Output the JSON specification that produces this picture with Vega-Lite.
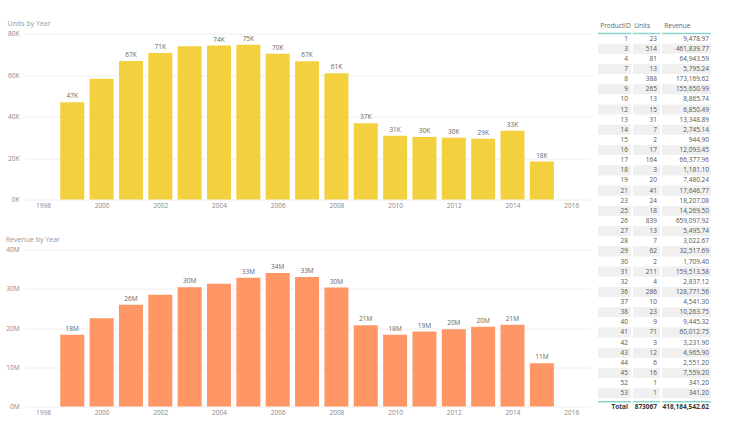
{
  "$schema": "https://vega.github.io/schema/vega-lite/v6.json",
  "description": "Units and Revenue by Year, with a product table",
  "background": "white",
  "padding": {"left": 5, "top": 19.5, "right": 0, "bottom": 0},
  "datasets": {
    "years": [
      {"Year": 1999, "Units": 46900, "Revenue": 18300000},
      {"Year": 2000, "Units": 58200, "Revenue": 22500000},
      {"Year": 2001, "Units": 66800, "Revenue": 25900000},
      {"Year": 2002, "Units": 70600, "Revenue": 28500000},
      {"Year": 2003, "Units": 73900, "Revenue": 30400000},
      {"Year": 2004, "Units": 74200, "Revenue": 31300000},
      {"Year": 2005, "Units": 74600, "Revenue": 32800000},
      {"Year": 2006, "Units": 70300, "Revenue": 34000000},
      {"Year": 2007, "Units": 66600, "Revenue": 33000000},
      {"Year": 2008, "Units": 60800, "Revenue": 30300000},
      {"Year": 2009, "Units": 36700, "Revenue": 20700000},
      {"Year": 2010, "Units": 30700, "Revenue": 18300000},
      {"Year": 2011, "Units": 30100, "Revenue": 19100000},
      {"Year": 2012, "Units": 29700, "Revenue": 19700000},
      {"Year": 2013, "Units": 29300, "Revenue": 20300000},
      {"Year": 2014, "Units": 33100, "Revenue": 20800000},
      {"Year": 2015, "Units": 18300, "Revenue": 11000000}
    ],
    "products": [
      {"ProductID": 1, "Units": 23, "Revenue": 9478.97},
      {"ProductID": 3, "Units": 514, "Revenue": 461839.77},
      {"ProductID": 4, "Units": 81, "Revenue": 64943.59},
      {"ProductID": 7, "Units": 13, "Revenue": 5795.24},
      {"ProductID": 8, "Units": 388, "Revenue": 173169.62},
      {"ProductID": 9, "Units": 265, "Revenue": 155650.99},
      {"ProductID": 10, "Units": 13, "Revenue": 8865.74},
      {"ProductID": 12, "Units": 15, "Revenue": 6850.49},
      {"ProductID": 13, "Units": 31, "Revenue": 13348.89},
      {"ProductID": 14, "Units": 7, "Revenue": 2745.14},
      {"ProductID": 15, "Units": 2, "Revenue": 944.90},
      {"ProductID": 16, "Units": 17, "Revenue": 12093.45},
      {"ProductID": 17, "Units": 164, "Revenue": 66377.96},
      {"ProductID": 18, "Units": 3, "Revenue": 1181.10},
      {"ProductID": 19, "Units": 20, "Revenue": 7480.24},
      {"ProductID": 21, "Units": 41, "Revenue": 17646.77},
      {"ProductID": 23, "Units": 24, "Revenue": 18207.08},
      {"ProductID": 25, "Units": 18, "Revenue": 14269.50},
      {"ProductID": 26, "Units": 839, "Revenue": 659097.92},
      {"ProductID": 27, "Units": 13, "Revenue": 5495.74},
      {"ProductID": 28, "Units": 7, "Revenue": 3022.67},
      {"ProductID": 29, "Units": 62, "Revenue": 32517.69},
      {"ProductID": 30, "Units": 2, "Revenue": 1709.40},
      {"ProductID": 31, "Units": 211, "Revenue": 159513.58},
      {"ProductID": 32, "Units": 4, "Revenue": 2837.12},
      {"ProductID": 36, "Units": 286, "Revenue": 128771.56},
      {"ProductID": 37, "Units": 10, "Revenue": 4541.30},
      {"ProductID": 38, "Units": 23, "Revenue": 10263.75},
      {"ProductID": 40, "Units": 9, "Revenue": 9445.32},
      {"ProductID": 41, "Units": 71, "Revenue": 60012.75},
      {"ProductID": 42, "Units": 3, "Revenue": 3231.90},
      {"ProductID": 43, "Units": 12, "Revenue": 4965.90},
      {"ProductID": 44, "Units": 6, "Revenue": 2551.20},
      {"ProductID": 45, "Units": 16, "Revenue": 7559.20},
      {"ProductID": 52, "Units": 1, "Revenue": 341.20},
      {"ProductID": 53, "Units": 1, "Revenue": 341.20},
      {"ProductID": "Total", "Units": 873067, "Revenue": 418184542.62}
    ]
  },
  "config": {
    "font": "Open Sans",
    "view": {"stroke": null},
    "title": {"fontSize": 7, "fontWeight": "normal", "color": "#999999", "anchor": "start", "offset": 3.5},
    "axis": {"labelFontSize": 6.5, "labelColor": "#888888", "domain": false, "ticks": false, "title": null},
    "text": {"fontSize": 6.5}
  },
  "spacing": 7,
  "hconcat": [
    {
      "spacing": 26,
      "vconcat": [
        {
          "title": {"text": "Units by Year", "frame": "bounds"},
          "width": 565,
          "height": 166,
          "data": {"name": "years"},
          "encoding": {
            "x": {
              "field": "Year",
              "type": "quantitative",
              "scale": {"domain": [1997.56, 2016.47], "nice": false, "zero": false},
              "axis": {"values": [1998, 2000, 2002, 2004, 2006, 2008, 2010, 2012, 2014, 2016], "format": "d", "grid": false, "labelPadding": 3}
            },
            "y": {
              "field": "Units",
              "type": "quantitative",
              "scale": {"domain": [0, 80000], "nice": false},
              "axis": {"values": [0, 20000, 40000, 60000, 80000], "labelExpr": "datum.value / 1000 + 'K'", "gridColor": "#eeeeee", "labelPadding": 6, "minExtent": 17, "maxExtent": 17}
            }
          },
          "layer": [
            {"mark": {"type": "bar", "size": 24, "color": "#F3D03E"}},
            {
              "transform": [
                {"filter": "datum.Year != 2000 && datum.Year != 2003"},
                {"calculate": "round(datum.Units / 1000) + 'K'", "as": "label"}
              ],
              "mark": {"type": "text", "baseline": "bottom", "dy": -3, "color": "#666666"},
              "encoding": {"text": {"field": "label"}}
            }
          ]
        },
        {
          "title": {"text": "Revenue by Year", "frame": "bounds"},
          "width": 565,
          "height": 157,
          "data": {"name": "years"},
          "encoding": {
            "x": {
              "field": "Year",
              "type": "quantitative",
              "scale": {"domain": [1997.56, 2016.47], "nice": false, "zero": false},
              "axis": {"values": [1998, 2000, 2002, 2004, 2006, 2008, 2010, 2012, 2014, 2016], "format": "d", "grid": false, "labelPadding": 3}
            },
            "y": {
              "field": "Revenue",
              "type": "quantitative",
              "scale": {"domain": [0, 40000000], "nice": false},
              "axis": {"values": [0, 10000000, 20000000, 30000000, 40000000], "labelExpr": "datum.value / 1000000 + 'M'", "gridColor": "#eeeeee", "labelPadding": 6, "minExtent": 17, "maxExtent": 17}
            }
          },
          "layer": [
            {"mark": {"type": "bar", "size": 24, "color": "#FE9666"}},
            {
              "transform": [
                {"filter": "datum.Year != 2000 && datum.Year != 2002 && datum.Year != 2004"},
                {"calculate": "round(datum.Revenue / 1000000) + 'M'", "as": "label"}
              ],
              "mark": {"type": "text", "baseline": "bottom", "dy": -3, "color": "#666666"},
              "encoding": {"text": {"field": "label"}}
            }
          ]
        }
      ]
    },
    {
      "spacing": 0,
      "hconcat": [
        {
          "title": {"text": "ProductID", "dx": 3, "color": "#666666", "fontSize": 6.5},
          "width": 33,
          "height": 375,
          "data": {"name": "products"},
          "transform": [{"window": [{"op": "row_number", "as": "r"}]}],
          "encoding": {
            "y": {"field": "r", "type": "ordinal", "scale": {"type": "band", "paddingInner": 0, "paddingOuter": 0}, "axis": null}
          },
          "layer": [
            {
              "transform": [{"filter": "datum.r % 2 == 0 && datum.r < 37"}],
              "mark": {"type": "rect", "color": "#f0f0f0"},
              "encoding": {"x": {"value": 0}, "x2": {"value": "width"}}
            },
            {
              "transform": [{"filter": "datum.r == 1"}],
              "mark": {"type": "rule", "color": "#8ad6cf", "strokeWidth": 1.5},
              "encoding": {"y": {"field": "r", "type": "ordinal", "bandPosition": 0}, "x": {"value": 0}, "x2": {"value": "width"}}
            },
            {
              "transform": [{"filter": "datum.r == 37"}],
              "mark": {"type": "rule", "color": "#8ad6cf", "strokeWidth": 1.5},
              "encoding": {"y": {"field": "r", "type": "ordinal", "bandPosition": 0.33}, "x": {"value": 0}, "x2": {"value": "width"}}
            },
            {
              "transform": [{"filter": "datum.r < 37"}],
              "mark": {"type": "text", "align": "right", "dx": -3, "color": "#555555"},
              "encoding": {"x": {"value": "width"}, "text": {"field": "ProductID", "type": "nominal"}}
            },
            {
              "transform": [{"filter": "datum.r == 37"}],
              "mark": {"type": "text", "align": "right", "dx": -3, "dy": 3.6, "color": "#333333", "fontWeight": "bold"},
              "encoding": {"x": {"value": "width"}, "text": {"field": "ProductID", "type": "nominal"}}
            }
          ]
        },
        {
          "title": {"text": "Units", "dx": 2, "color": "#666666", "fontSize": 6.5},
          "width": 27,
          "height": 375,
          "data": {"name": "products"},
          "transform": [{"window": [{"op": "row_number", "as": "r"}]}],
          "encoding": {
            "y": {"field": "r", "type": "ordinal", "scale": {"type": "band", "paddingInner": 0, "paddingOuter": 0}, "axis": null}
          },
          "layer": [
            {
              "transform": [{"filter": "datum.r % 2 == 0 && datum.r < 37"}],
              "mark": {"type": "rect", "color": "#f0f0f0"},
              "encoding": {"x": {"value": 0}, "x2": {"value": "width"}}
            },
            {
              "transform": [{"filter": "datum.r == 1"}],
              "mark": {"type": "rule", "color": "#8ad6cf", "strokeWidth": 1.5},
              "encoding": {"y": {"field": "r", "type": "ordinal", "bandPosition": 0}, "x": {"value": 0}, "x2": {"value": "width"}}
            },
            {
              "transform": [{"filter": "datum.r == 37"}],
              "mark": {"type": "rule", "color": "#8ad6cf", "strokeWidth": 1.5},
              "encoding": {"y": {"field": "r", "type": "ordinal", "bandPosition": 0.33}, "x": {"value": 0}, "x2": {"value": "width"}}
            },
            {
              "transform": [{"filter": "datum.r < 37"}],
              "mark": {"type": "text", "align": "right", "dx": -3, "color": "#555555"},
              "encoding": {"x": {"value": "width"}, "text": {"field": "Units", "type": "nominal"}}
            },
            {
              "transform": [{"filter": "datum.r == 37"}],
              "mark": {"type": "text", "align": "right", "dx": -3, "dy": 3.6, "color": "#333333", "fontWeight": "bold"},
              "encoding": {"x": {"value": "width"}, "text": {"field": "Units", "type": "nominal"}}
            }
          ]
        },
        {
          "title": {"text": "Revenue", "dx": 3, "color": "#666666", "fontSize": 6.5},
          "width": 49,
          "height": 375,
          "data": {"name": "products"},
          "transform": [{"window": [{"op": "row_number", "as": "r"}]}],
          "encoding": {
            "y": {"field": "r", "type": "ordinal", "scale": {"type": "band", "paddingInner": 0, "paddingOuter": 0}, "axis": null}
          },
          "layer": [
            {
              "transform": [{"filter": "datum.r % 2 == 0 && datum.r < 37"}],
              "mark": {"type": "rect", "color": "#f0f0f0"},
              "encoding": {"x": {"value": 0}, "x2": {"value": "width"}}
            },
            {
              "transform": [{"filter": "datum.r == 1"}],
              "mark": {"type": "rule", "color": "#8ad6cf", "strokeWidth": 1.5},
              "encoding": {"y": {"field": "r", "type": "ordinal", "bandPosition": 0}, "x": {"value": 0}, "x2": {"value": "width"}}
            },
            {
              "transform": [{"filter": "datum.r == 37"}],
              "mark": {"type": "rule", "color": "#8ad6cf", "strokeWidth": 1.5},
              "encoding": {"y": {"field": "r", "type": "ordinal", "bandPosition": 0.33}, "x": {"value": 0}, "x2": {"value": "width"}}
            },
            {
              "transform": [{"filter": "datum.r < 37"}],
              "mark": {"type": "text", "align": "right", "dx": -2, "color": "#555555"},
              "encoding": {"x": {"value": "width"}, "text": {"field": "Revenue", "type": "quantitative", "format": ",.2f"}}
            },
            {
              "transform": [{"filter": "datum.r == 37"}],
              "mark": {"type": "text", "align": "right", "dx": -2, "dy": 3.6, "color": "#333333", "fontWeight": "bold"},
              "encoding": {"x": {"value": "width"}, "text": {"field": "Revenue", "type": "quantitative", "format": ",.2f"}}
            }
          ]
        }
      ]
    }
  ]
}
